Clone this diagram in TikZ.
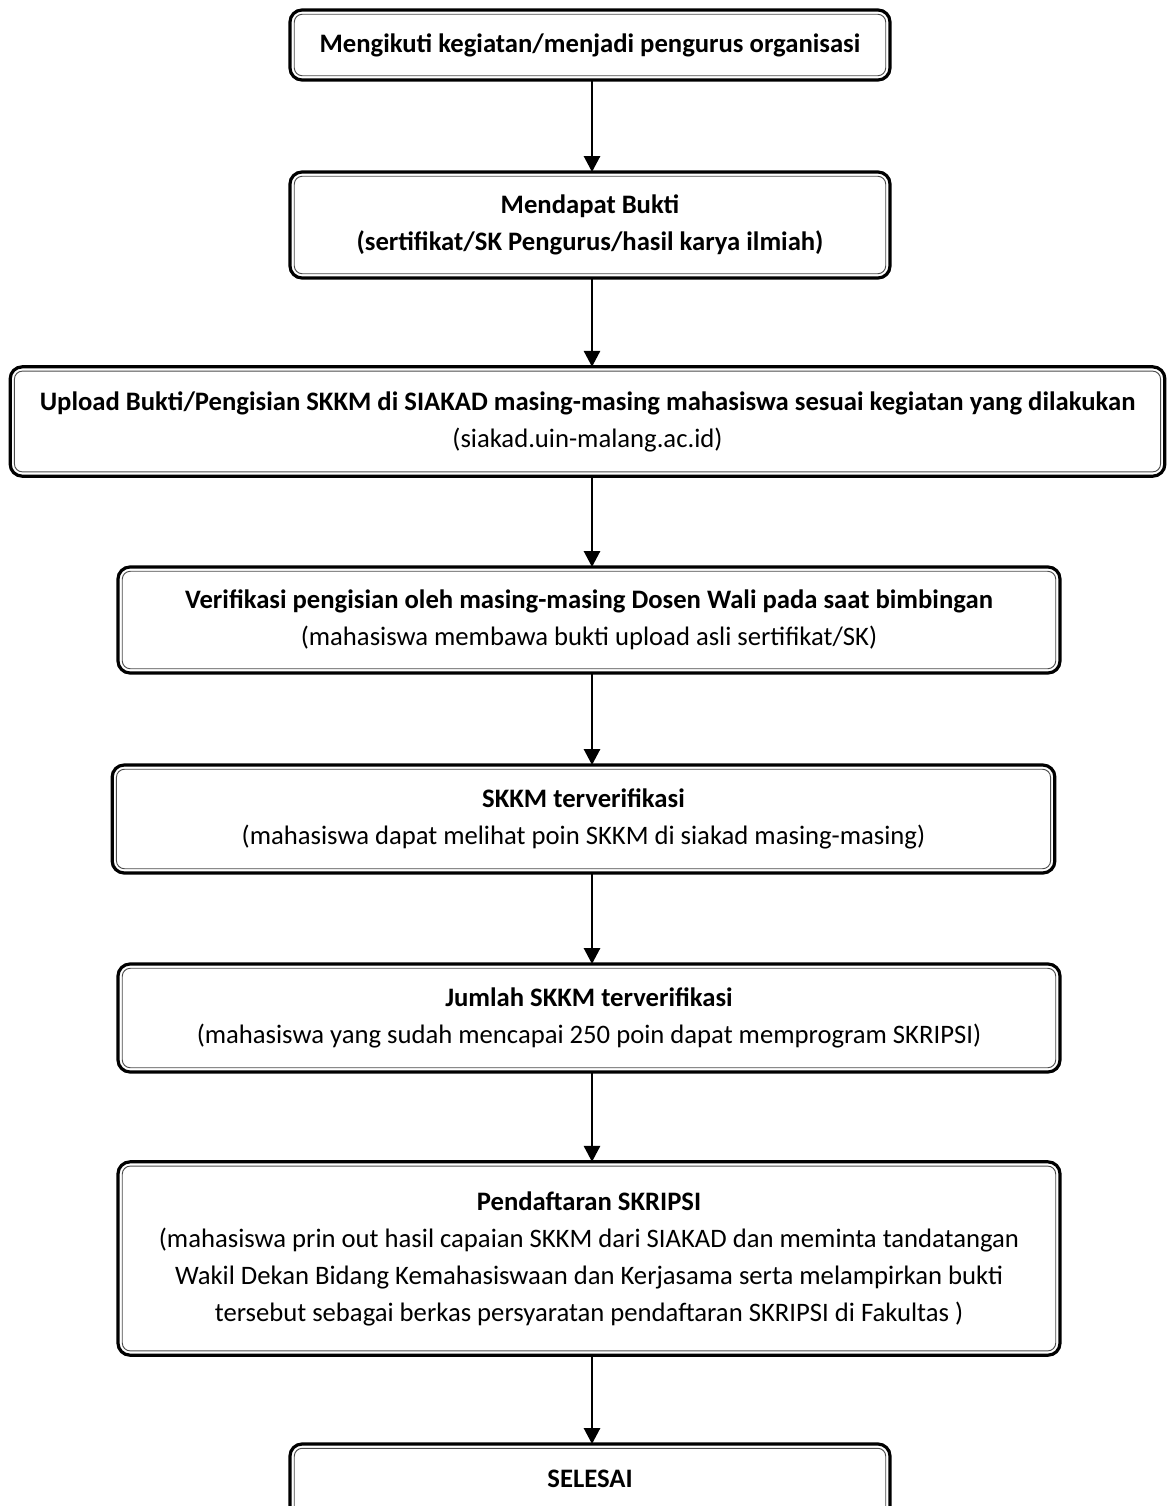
\documentclass[tikz,border=0pt]{standalone}
\usepackage{fontspec}
\setmainfont{Carlito}
\usetikzlibrary{arrows.meta}

\begin{document}
\begin{tikzpicture}[x = 0.75pt, y = -0.75pt, > = {Triangle[width = 12pt, length = 12pt]},
	stepbox/.style = {draw, line width = 2.4pt, rounded corners = 9pt, align = center, outer sep = 0pt,
		font = \fontsize{20}{27.75}\selectfont},
	innerline/.style = {line width = 0.7pt, draw = black!70, rounded corners = 6pt},
	flow/.style = {line width = 2.2pt, ->}]

	\useasboundingbox (0, 0) rectangle (1167, 1506);

	% The steps

	\node [stepbox, minimum width = 450pt, minimum height = 52.5pt] (ikut) at (590, 45)
		{\bfseries Mengikuti kegiatan/menjadi pengurus organisasi};
	\node [stepbox, minimum width = 450pt, minimum height = 79.5pt] (bukti) at (590, 225)
		{\bfseries Mendapat Bukti\\ \bfseries (sertifikat/SK Pengurus/hasil karya ilmiah)};
	\node [stepbox, minimum width = 866pt, minimum height = 82pt] (upload) at (587.5, 421.5)
		{\bfseries Upload Bukti/Pengisian SKKM di SIAKAD masing-masing mahasiswa sesuai kegiatan yang dilakukan\\ (siakad.uin-malang.ac.id)};
	\node [stepbox, minimum width = 706.5pt, minimum height = 79.5pt] (verif) at (589, 620)
		{\bfseries Verifikasi pengisian oleh masing-masing Dosen Wali pada saat bimbingan\\ (mahasiswa membawa bukti upload asli sertifikat/SK)};
	\node [stepbox, minimum width = 707pt, minimum height = 81pt] (terverif) at (583.5, 819)
		{\bfseries SKKM terverifikasi\\ (mahasiswa dapat melihat poin SKKM di siakad masing-masing)};
	\node [stepbox, minimum width = 706.5pt, minimum height = 81pt] (jumlah) at (589, 1018)
		{\bfseries Jumlah SKKM terverifikasi\\ (mahasiswa yang sudah mencapai 250 poin dapat memprogram SKRIPSI)};
	\node [stepbox, minimum width = 706.5pt, minimum height = 145pt] (daftar) at (589, 1258.5)
		{\bfseries Pendaftaran SKRIPSI\\ (mahasiswa prin out hasil capaian SKKM dari SIAKAD dan meminta tandatangan\\
		Wakil Dekan Bidang Kemahasiswaan dan Kerjasama serta melampirkan bukti\\
		tersebut sebagai berkas persyaratan pendaftaran SKRIPSI di Fakultas )};
	\node [stepbox, minimum width = 450pt, minimum height = 79.5pt] (selesai) at (590, 1497)
		{\bfseries SELESAI\\ \phantom{X}};

	% Thin inner border of each box

	\foreach \n in {ikut, bukti, upload, verif, terverif, jumlah, daftar, selesai}
	{
		\draw [innerline] ([shift = {(3.2pt, 3.2pt)}]\n.south west) rectangle ([shift = {(-3.2pt, -3.2pt)}]\n.north east);
	}

	% Arrows

	\foreach \a / \b in {ikut/bukti, bukti/upload, upload/verif, verif/terverif, terverif/jumlah, jumlah/daftar, daftar/selesai}
	{
		\draw [flow] (\a.south -| 592, 0) -- (\b.north -| 592, 0);
	}

\end{tikzpicture}
\end{document}
